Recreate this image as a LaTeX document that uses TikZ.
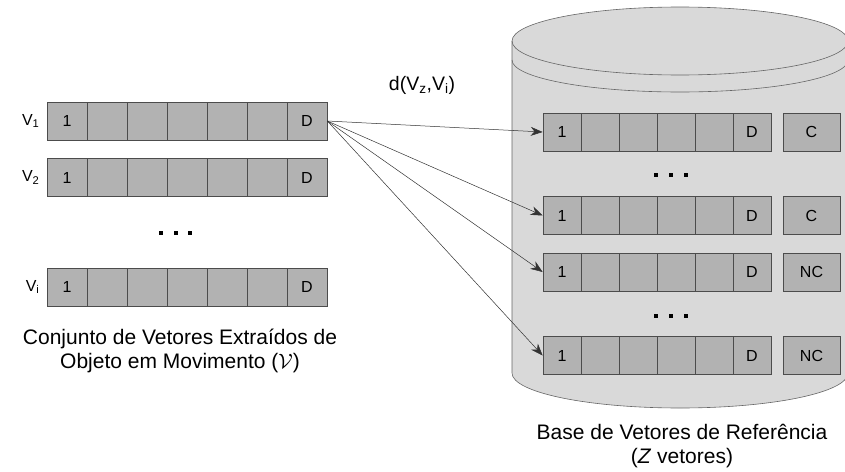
\documentclass[tikz,border=0pt]{standalone}
\usepackage{fontspec}
\setmainfont{Liberation Sans}
\usetikzlibrary{arrows.meta,positioning}

\tikzset{
  cell/.style={draw=black!70,fill=black!30,line width=0.7pt,minimum height=38pt,inner sep=0pt,font=\fontsize{16}{18}\selectfont},
  lcell/.style={cell,minimum width=40pt},
  rcell/.style={cell,minimum width=38pt},
  classbox/.style={cell,minimum width=57pt},
  rowlabel/.style={font=\fontsize{16}{18}\selectfont,inner sep=0pt},
  caption/.style={align=center,font=\fontsize{21}{24}\selectfont},
  link/.style={draw=black!80,line width=0.5pt,-{Stealth[length=12pt,width=9pt]}},
  cyl/.style={draw=black!60,line width=0.6pt,fill=black!15},
}

\begin{document}
\begin{tikzpicture}[x=1pt,y=-1pt]
\useasboundingbox (0,0) rectangle (845,471);

% cylinder of the reference base
\draw[cyl] (512,41) -- (512,373) arc[start angle=180,end angle=360,x radius=168pt,y radius=35pt]
  -- (848,41) arc[start angle=0,end angle=180,x radius=168pt,y radius=34pt] -- cycle;
\draw[draw=black!60,line width=0.6pt] (512,41) arc[start angle=180,end angle=360,x radius=168pt,y radius=34pt];
\draw[draw=black!60,line width=0.6pt] (512,60) arc[start angle=180,end angle=360,x radius=168pt,y radius=32pt];

% extracted vectors
\foreach \r/\y in {1/121,2/177.5,i/287}{
  \foreach \k/\t in {1/1,2/,3/,4/,5/,6/,7/D}
    \node[lcell] (l\r-\k) at (27+40*\k,\y) {\t};
  \node[rowlabel,left=7pt of l\r-1] (v\r) {V\textsubscript{\r}};
}

% reference vectors and classes
\foreach \r/\y/\c in {1/132/C,2/215.5/C,3/272/NC,4/355.5/NC}{
  \foreach \k/\t in {1/1,2/,3/,4/,5/,6/D}
    \node[rcell] (r\r-\k) at (524+38*\k,\y) {\t};
  \node[classbox] (c\r) at (811.5,\y) {\c};
}

% dots
\foreach \x/\y in {161/233,176/233,190/233,656/175,671/175,686/175,656/316,671/316,686/316}
  \fill (\x-1.8,\y-1.8) rectangle ++(3.6,3.6);

% distances
\foreach \r in {1,...,4}
  \draw[link] (l1-7.east) -- (r\r-1.west);

\node[font=\fontsize{19.5}{23}\selectfont] (dist) at (422,85) {d(V\textsubscript{z},V\textsubscript{i})};

\node[caption] (cset) at (180,351) {Conjunto de Vetores Extraídos de\\Objeto em Movimento ($\mathcal{V}$)};
\node[caption] (cbase) at (682,446) {Base de Vetores de Referência\\(\textit{Z} vetores)};

\end{tikzpicture}
\end{document}
